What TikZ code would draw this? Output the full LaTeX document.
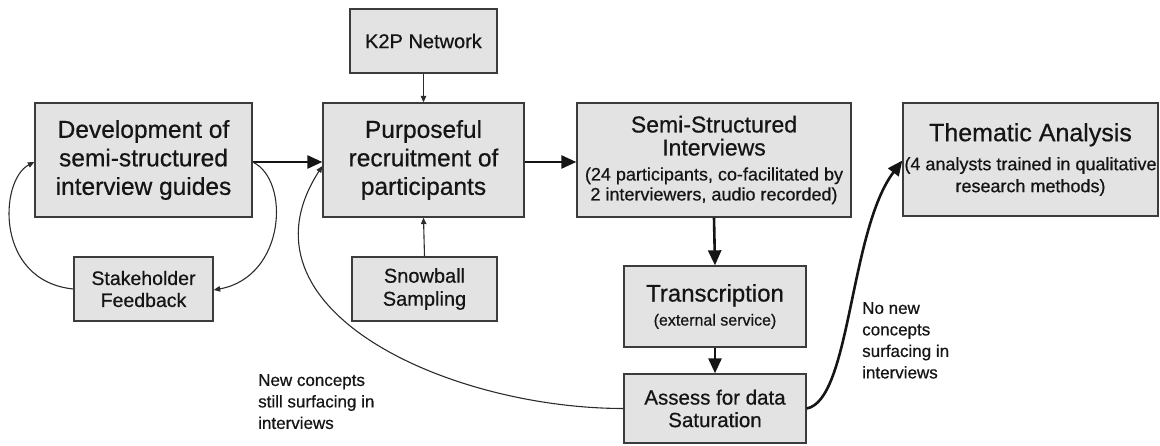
\documentclass[tikz,border=0pt]{standalone}
\usepackage{fontspec}
\setmainfont{Liberation Sans}[UprightFeatures={FakeBold=0.6}]
\usetikzlibrary{arrows.meta}
\definecolor{boxfill}{HTML}{E3E3E3}
\definecolor{boxline}{HTML}{3C3C3C}
\definecolor{ink}{HTML}{151515}
\newcommand\fs[2]{\fontsize{#1}{#2}\selectfont}
\begin{document}
\begin{tikzpicture}[x=1pt,y=-1pt,
  box/.style={draw=boxline,fill=boxfill,line width=1.3pt,inner sep=0pt,align=center,text=ink},
  bigarrow/.style={draw=ink,line width=2.6pt,-{Triangle[length=15pt,width=13pt]}},
  smallarrow/.style={draw=ink!90,line width=1.1pt,-{Triangle[length=6.5pt,width=5.5pt]}},
  lbl/.style={align=left,text=ink,inner sep=0pt,font=\fs{17}{21.5}}]
\useasboundingbox (0,0) rectangle (1160,446);

\node[box,minimum width=217pt,minimum height=114pt,font=\fs{24.5}{28.5}] (dev) at (143.5,160)
  {Development of\\semi-structured\\interview guides};
\node[box,minimum width=201pt,minimum height=114pt,font=\fs{24.5}{28.5}] (purp) at (423.5,160)
  {Purposeful\\recruitment of\\participants};
\node[box,minimum width=274pt,minimum height=114pt,font=\fs{18}{20}] (semi) at (714,160)
  {\fs{23}{26}Semi-Structured\\[3pt]\fs{23}{26}Interviews\\[5pt](24 participants, co-facilitated by\\2 interviewers, audio recorded)};
\node[box,minimum width=255pt,minimum height=113pt,font=\fs{18}{22}] (them) at (1030.5,159.5)
  {\fs{25}{28}Thematic Analysis\\[7pt](4 analysts trained in qualitative\\research methods)};
\node[box,minimum width=147pt,minimum height=64pt,font=\fs{20}{24}] (k2p) at (423.5,41)
  {K2P Network};
\node[box,minimum width=139pt,minimum height=64pt,font=\fs{19.5}{22}] (stake) at (143.5,289)
  {Stakeholder\\Feedback};
\node[box,minimum width=145pt,minimum height=64pt,font=\fs{20}{23}] (snow) at (424.5,289)
  {Snowball\\Sampling};
\node[box,minimum width=182pt,minimum height=81pt,font=\fs{16}{20}] (trans) at (715,306.5)
  {\fs{24}{27}Transcription\\[4pt](external service)};
\node[box,minimum width=182pt,minimum height=69pt,font=\fs{20.5}{22.5}] (assess) at (715,408.5)
  {Assess for data\\Saturation};

\node[lbl,anchor=north west] (lnew) at (258,374) {New concepts\\still surfacing in\\interviews};
\node[lbl,anchor=north west] (lno) at (862,302) {No new\\concepts\\surfacing in\\interviews};

\draw[bigarrow] ([yshift=-2pt]dev.east) -- ([yshift=-2pt]purp.west);
\draw[bigarrow] ([yshift=-2pt]purp.east) -- ([yshift=-2pt]semi.west);
\draw[bigarrow] (semi.south) -- (trans.north);
\draw[bigarrow] (trans.south) -- (assess.north);
\draw[smallarrow] (k2p.south) -- (purp.north);
\draw[smallarrow] (snow.north) -- (purp.south);
\draw[smallarrow] ([yshift=-2pt]dev.east) .. controls +(38,18) and +(72,-13) .. ([yshift=-1pt]stake.east);
\draw[smallarrow] (stake.west) .. controls +(-79,-8) and +(-35,18) .. ([yshift=-2pt]dev.west);
\draw[smallarrow] (assess.west) .. controls +(-174,0) and +(-93,144) .. ([yshift=-6pt]purp.west);
\draw[bigarrow] (assess.east) .. controls +(44,-8) and +(-53,70) .. ([yshift=-1pt]them.west);
\end{tikzpicture}
\end{document}
